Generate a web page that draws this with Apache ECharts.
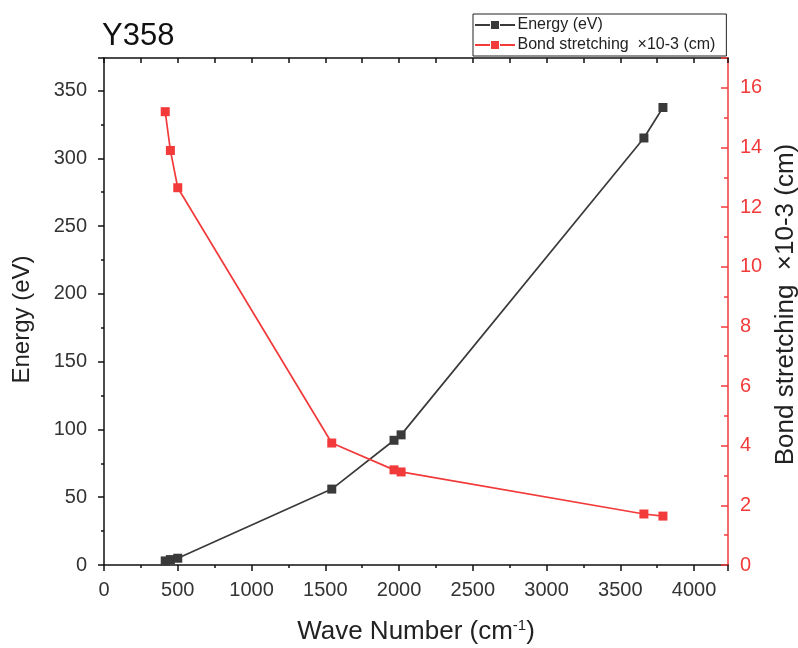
<!DOCTYPE html>
<html>
<head>
<meta charset="utf-8">
<script src="https://cdn.jsdelivr.net/npm/echarts@6/dist/echarts.min.js"></script>
<style>html,body{margin:0;padding:0;background:#fff;}#c{width:798px;height:648px;}</style>
</head>
<body>
<div id="c"></div>
<script>
var titleText = 'Y358';
var waveNumbers = [415, 450, 500, 1544, 1966, 2014, 3660, 3789];
var energy = [3, 4, 5, 56, 92, 96, 315, 337.5];
var bondStretch = [15.2, 13.9, 12.65, 4.09, 3.19, 3.12, 1.71, 1.64];
var seriesNames = ['Energy (eV)', 'Bond stretching  \u00d710-3 (cm)'];

var FONT = 'Liberation Sans, Arial, sans-serif';
var BLACK = '#3a3a3a';
var RED = '#f23a3a';
function pairs(xs, ys){ return xs.map(function(x,i){ return [x, ys[i]]; }); }
var legendIcon = 'path://M0,3 L15,3 L15,5 L0,5 Z M25,3 L40,3 L40,5 L25,5 Z M16,0 L24,0 L24,8 L16,8 Z';

var chart = echarts.init(document.getElementById('c'), null, {renderer:'canvas'});
chart.setOption({
  animation: false,
  backgroundColor: '#fff',
  textStyle: {fontFamily: FONT},
  title: {text: titleText, left: 102, top: 21, padding: 0,
    textStyle: {fontFamily: FONT, fontSize: 31, fontWeight: 'normal', color: '#111'}},
  legend: {
    orient: 'vertical', left: 473, top: 14,
    padding: [3, 11, 3, 2], itemGap: 4, itemWidth: 41, itemHeight: 8,
    borderColor: '#222', borderWidth: 1, backgroundColor: '#fff',
    textStyle: {fontFamily: FONT, fontSize: 16, color: '#222', lineHeight: 16, padding: [0,0,0,-3]},
    data: [{name: seriesNames[0], icon: legendIcon, itemStyle:{color: BLACK}},
           {name: seriesNames[1], icon: legendIcon, itemStyle:{color: RED}}]
  },
  grid: {left: 104, right: 70, top: 58, bottom: 83, containLabel: false, outerBoundsMode: 'none'},
  xAxis: [{
    type: 'value', position: 'bottom', min: 0, max: 4230, interval: 500,
    name: 'Wave Number (cm{sup|-1})', nameLocation: 'middle', nameGap: 53,
    nameTextStyle: {fontFamily: FONT, fontSize: 26, color: '#222',
      rich: {sup: {fontSize: 15, verticalAlign: 'top', padding: [0,0,13,0], color: '#222', fontFamily: FONT}}},
    axisLine: {show: true, onZero: false, lineStyle: {color: '#111', width: 1.5}},
    axisTick: {show: true, length: 6, lineStyle: {color: '#111', width: 1.5}},
    minorTick: {show: true, splitNumber: 2, length: 3, lineStyle: {color: '#111', width: 1.5}},
    axisLabel: {fontFamily: FONT, fontSize: 20, color: '#333', margin: 15, showMaxLabel: false,
      formatter: function(v){ return v % 500 === 0 ? String(v) : ''; }},
    splitLine: {show: false}
  }, {
    type: 'value', position: 'top', min: 0, max: 4230, interval: 500,
    axisLine: {show: true, onZero: false, lineStyle: {color: '#111', width: 1.5}},
    axisTick: {show: true, inside: true, length: 5, lineStyle: {color: '#111', width: 1.5}},
    minorTick: {show: true, splitNumber: 2, length: 5, lineStyle: {color: '#111', width: 1.5}},
    axisLabel: {show: false}, splitLine: {show: false}
  }],
  yAxis: [{
    type: 'value', position: 'left', min: 0, max: 374, interval: 50,
    name: 'Energy (eV)', nameLocation: 'middle', nameGap: 70, nameRotate: 90,
    nameTextStyle: {fontFamily: FONT, fontSize: 24, color: '#222', padding: [0, 16, 0, 0]},
    axisLine: {show: true, onZero: false, lineStyle: {color: '#111', width: 1.5}},
    axisTick: {show: true, length: 6, lineStyle: {color: '#111', width: 1.5}},
    minorTick: {show: true, splitNumber: 2, length: 3, lineStyle: {color: '#111', width: 1.5}},
    axisLabel: {fontFamily: FONT, fontSize: 20, color: '#333', margin: 17, showMaxLabel: false,
      formatter: function(v){ return v % 50 === 0 ? String(v) : ''; }},
    splitLine: {show: false}
  }, {
    type: 'value', position: 'right', min: 0, max: 17, interval: 2,
    name: seriesNames[1], nameLocation: 'middle', nameGap: 43, nameRotate: 90,
    nameTextStyle: {fontFamily: FONT, fontSize: 26, color: '#222', padding: [0, 0, 0, 14]},
    axisLine: {show: true, onZero: false, lineStyle: {color: RED, width: 1.5}},
    axisTick: {show: true, inside: true, length: 7, lineStyle: {color: RED, width: 1.5}},
    minorTick: {show: true, splitNumber: 2, length: 4, lineStyle: {color: RED, width: 1.5}},
    axisLabel: {fontFamily: FONT, fontSize: 20, color: RED, margin: 12, showMaxLabel: false,
      formatter: function(v){ return v % 2 === 0 ? String(v) : ''; }},
    splitLine: {show: false}
  }],
  series: [{
    name: seriesNames[0], type: 'line', xAxisIndex: 0, yAxisIndex: 0,
    data: pairs(waveNumbers, energy),
    symbol: 'rect', symbolSize: 9, showAllSymbol: true,
    lineStyle: {color: BLACK, width: 1.7}, itemStyle: {color: BLACK}
  }, {
    name: seriesNames[1], type: 'line', xAxisIndex: 0, yAxisIndex: 1,
    data: pairs(waveNumbers, bondStretch),
    symbol: 'rect', symbolSize: 9, showAllSymbol: true,
    lineStyle: {color: RED, width: 1.7}, itemStyle: {color: RED}
  }]
});
</script>
</body>
</html>
